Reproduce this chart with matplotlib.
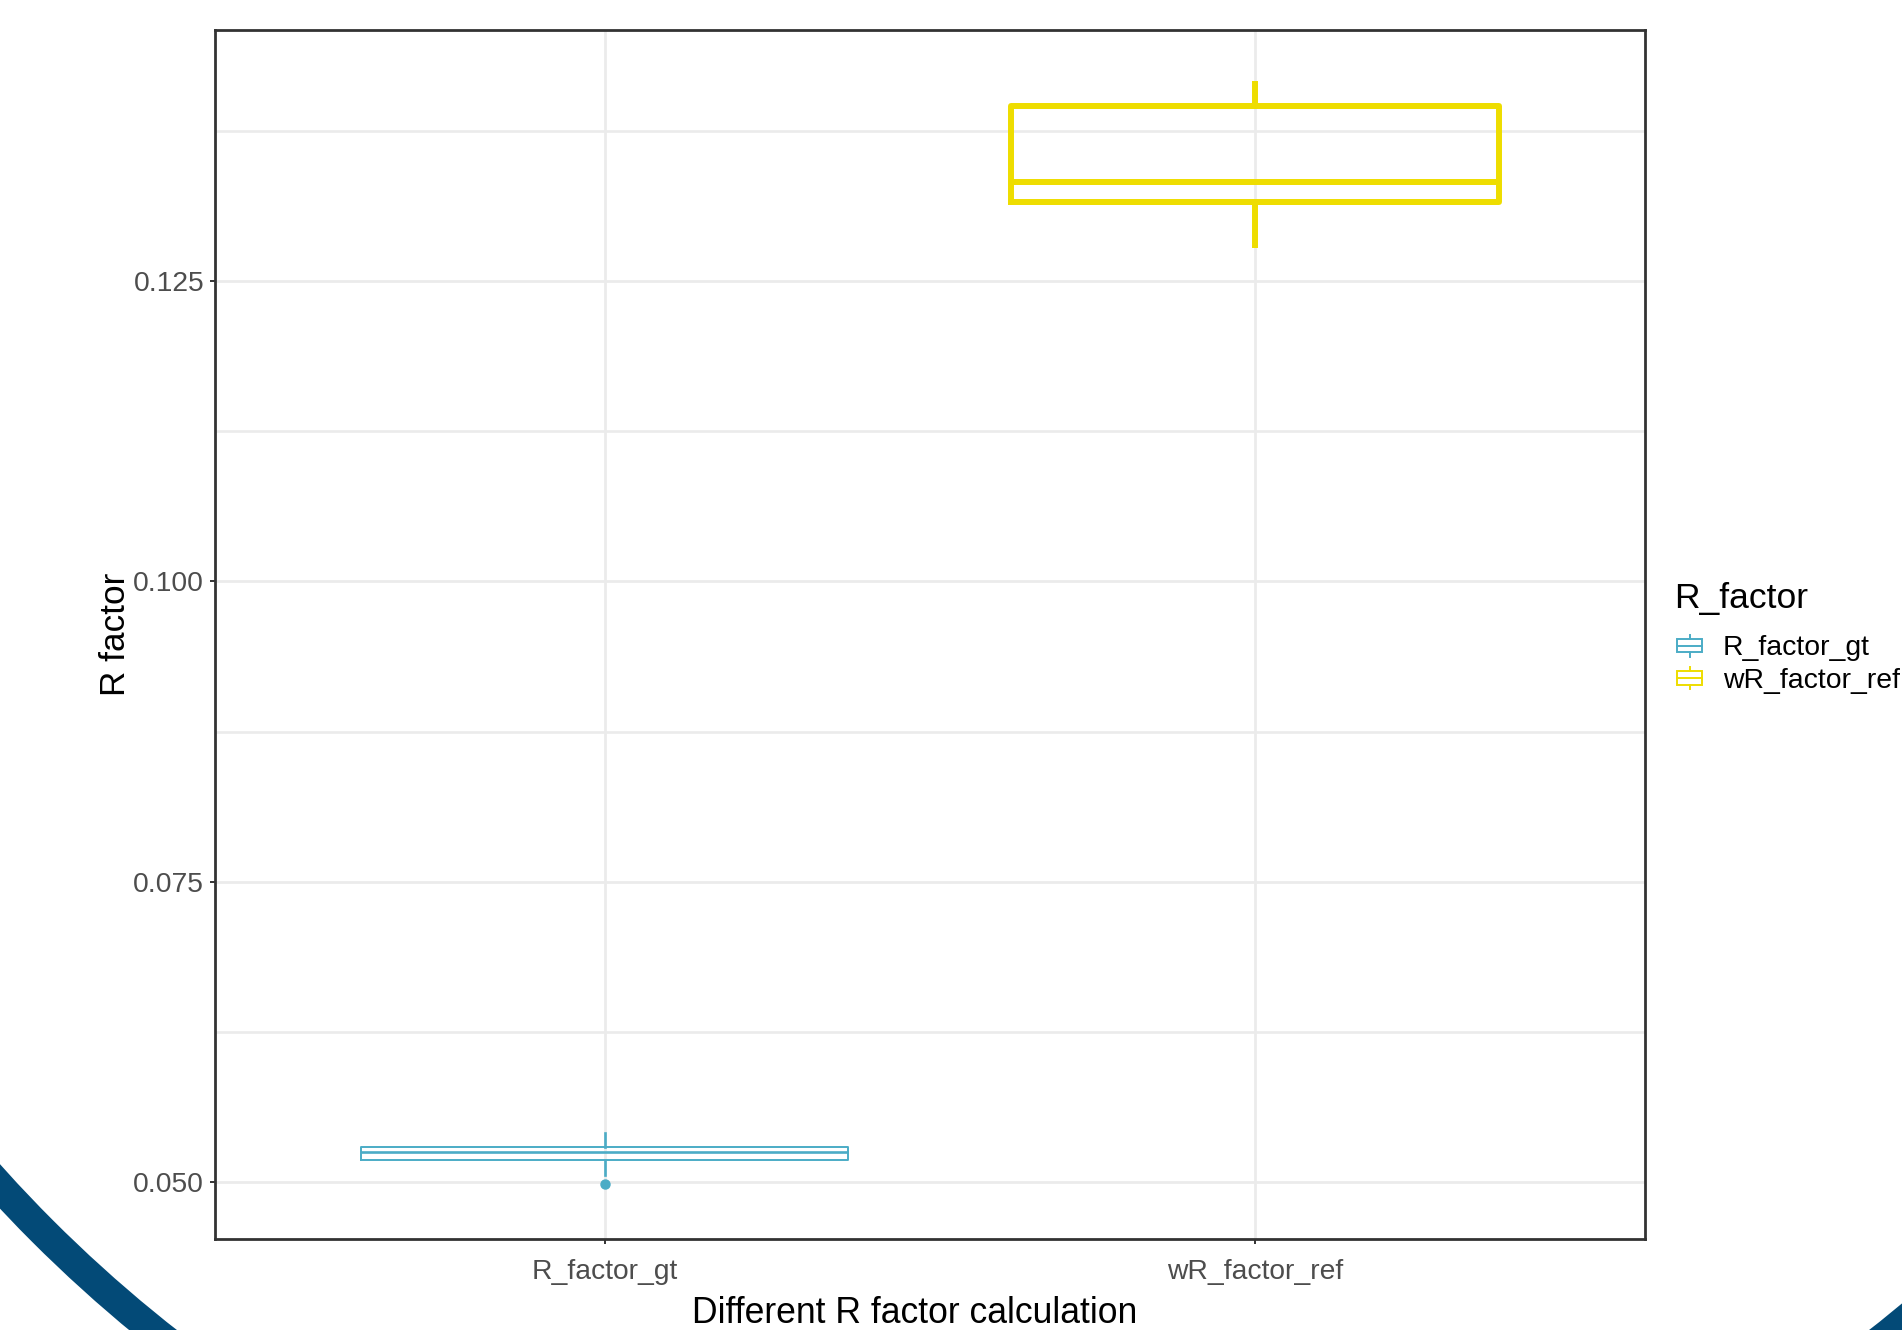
import matplotlib
matplotlib.use("Agg")
import matplotlib.pyplot as plt
from matplotlib.patches import Rectangle, Patch, Circle
from matplotlib.lines import Line2D
from matplotlib.legend_handler import HandlerBase

plt.rcParams["font.family"] = ["Liberation Sans", "DejaVu Sans"]

# ---- data -------------------------------------------------------------
categories = ["R_factor_gt", "wR_factor_ref"]
whisker_low = [0.05057, 0.12803]
q1 = [0.05181, 0.13158]
medians = [0.05243, 0.13332]
q3 = [0.05287, 0.13961]
whisker_high = [0.05403, 0.14141]
outliers = [[0.0498], []]
y_ticks = [0.050, 0.075, 0.100, 0.125]
y_tick_labels = ["0.050", "0.075", "0.100", "0.125"]
y_minor = [0.0625, 0.0875, 0.1125, 0.1375]

# ---- styles -----------------------------------------------------------
colors = ["#4BACC6", "#EEDD00"]
box_lw = [1.4, 4.3]
median_lw = [1.9, 4.3]
ring_color = "#034A77"

W, H, DPI = 1902, 1330, 100
fig = plt.figure(figsize=(W / DPI, H / DPI), dpi=DPI, facecolor="white")

# decorative ring in the lower corners (pixel coordinates)
bg = fig.add_axes([0, 0, 1, 1], zorder=-5)
bg.set_xlim(0, W)
bg.set_ylim(H, 0)
bg.axis("off")
bg.add_patch(Circle((1023, 250), 1387, fill=False, edgecolor=ring_color,
                    linewidth=30 * 72 / DPI))

# main panel
left, right, top, bottom = 214.5, 1645, 29.5, 1239
ax = fig.add_axes([left / W, 1 - bottom / H, (right - left) / W, (bottom - top) / H])
ax.set_facecolor("white")

for i, cat in enumerate(categories):
    c = colors[i]
    stats = [dict(label=cat, whislo=whisker_low[i], q1=q1[i], med=medians[i],
                  q3=q3[i], whishi=whisker_high[i], fliers=outliers[i])]
    ax.bxp(stats, positions=[i + 1], widths=0.75, showcaps=False,
           manage_ticks=False,
           boxprops=dict(color=c, linewidth=box_lw[i], solid_joinstyle="round"),
           whiskerprops=dict(color=c, linewidth=median_lw[i]),
           medianprops=dict(color=c, linewidth=median_lw[i]),
           flierprops=dict(marker="o", markerfacecolor=c, markeredgecolor=c,
                           markersize=6.5, linestyle="none"),
           zorder=3)

# axis limits with 5% expansion, like the default continuous scale
all_vals = whisker_low + whisker_high + [v for o in outliers for v in o]
lo, hi = min(all_vals), max(all_vals)
pad = 0.05 * (hi - lo)
ax.set_ylim(lo - pad, hi + pad)
ax.set_xlim(0.4, 2.6)

ax.set_xticks([1, 2])
ax.set_xticklabels(categories)
ax.set_yticks(y_ticks)
ax.set_yticklabels(y_tick_labels)
ax.set_yticks(y_minor, minor=True)

ax.set_axisbelow(True)
ax.grid(which="major", color="#EBEBEB", linewidth=2.0)
ax.grid(which="minor", axis="y", color="#EBEBEB", linewidth=1.9)
ax.tick_params(which="minor", length=0)
ax.tick_params(which="major", colors="#333333", labelcolor="#4D4D4D",
               labelsize=20.3, length=3.5, width=1.4, pad=4)
ax.tick_params(axis="x", which="major", pad=11)

for s in ax.spines.values():
    s.set_color("#333333")
    s.set_linewidth(2.0)

ax.set_xlabel("Different R factor calculation", fontsize=25.6, color="black")
ax.set_ylabel("R factor", fontsize=25.3, color="black")
ax.xaxis.set_label_coords((915 - left) / (right - left), -(1313.5 - bottom) / (bottom - top))
ax.yaxis.set_label_coords(-(left - 115) / (right - left), 0.5)
ax.xaxis.label.set_va("center")
ax.yaxis.label.set_va("center")


class BoxKey(HandlerBase):
    """Small boxplot glyph for legend entries."""

    def create_artists(self, legend, orig_handle, xdescent, ydescent,
                       width, height, fontsize, trans):
        c = orig_handle.get_edgecolor()
        inset = 2.5
        x0 = -xdescent + inset
        w = width - inset
        y0 = -ydescent
        xm = x0 + w / 2
        lw = 1.4
        box = Rectangle((x0, y0 + 0.25 * height), w, 0.5 * height,
                        fill=False, edgecolor=c, linewidth=lw, transform=trans)
        med = Line2D([x0, x0 + w], [y0 + 0.5 * height] * 2,
                     color=c, linewidth=lw, transform=trans)
        wl = Line2D([xm, xm], [y0 + 0.1 * height, y0 + 0.25 * height],
                    color=c, linewidth=lw, transform=trans)
        wh = Line2D([xm, xm], [y0 + 0.75 * height, y0 + 0.9 * height],
                    color=c, linewidth=lw, transform=trans)
        return [box, med, wl, wh]


handles = [Patch(edgecolor=c, facecolor="none") for c in colors]
leg = ax.legend(handles, categories, title="R_factor",
                handler_map={Patch: BoxKey()},
                loc="upper left", bbox_to_anchor=(1674 / W, 1 - 582 / H),
                bbox_transform=fig.transFigure, frameon=False,
                fontsize=20.4, title_fontsize=25.5, handlelength=1.0,
                handleheight=1.08, handletextpad=0.73, labelspacing=0.11,
                borderpad=0, borderaxespad=0, alignment="left")
# extra room between the legend title and its entries
leg._legend_box.sep = 12.5

fig.savefig("out.png", dpi=DPI, facecolor="white")
